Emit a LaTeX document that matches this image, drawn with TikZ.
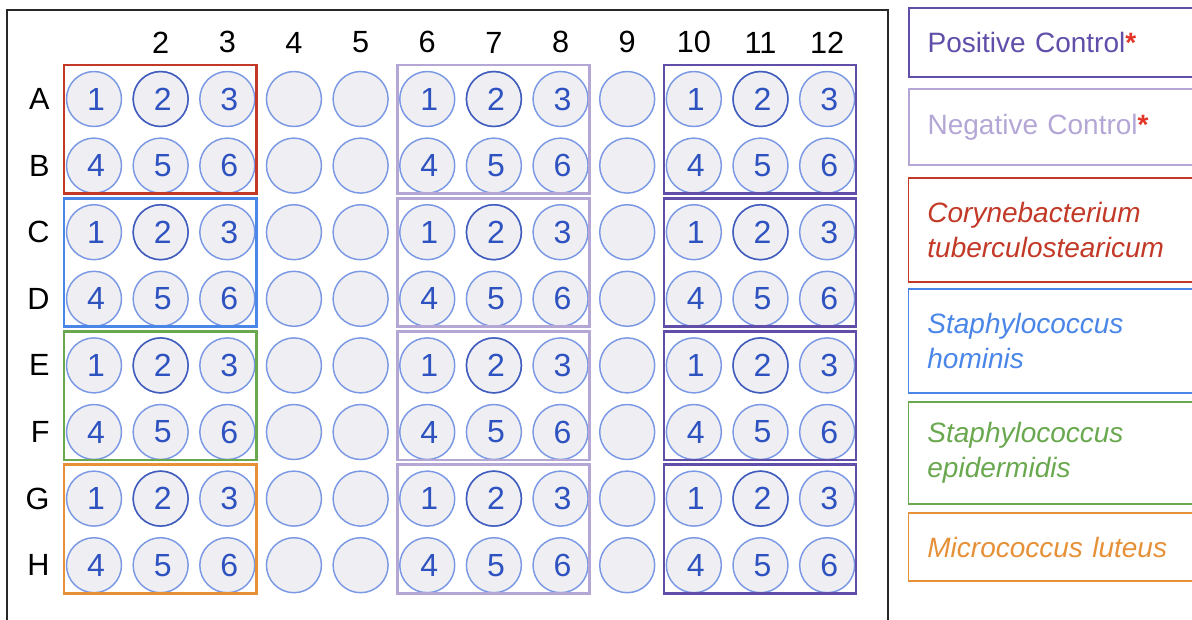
\documentclass[tikz,border=0pt]{standalone}
\usepackage{fontspec}
\setmainfont{Liberation Sans}
\usetikzlibrary{calc,positioning}
\definecolor{wellFill}{RGB}{239,239,243}
\definecolor{wellEdge}{RGB}{122,152,228}
\definecolor{wellEdgeDark}{RGB}{66,92,188}
\definecolor{wellNum}{RGB}{46,82,192}
\definecolor{grpRed}{RGB}{194,57,39}
\definecolor{grpBlue}{RGB}{74,134,232}
\definecolor{grpGreen}{RGB}{106,168,79}
\definecolor{grpOrange}{RGB}{230,145,56}
\definecolor{grpNeg}{RGB}{180,167,214}
\definecolor{grpPos}{RGB}{96,78,168}
\definecolor{starRed}{RGB}{228,52,40}
\definecolor{plateGray}{RGB}{40,40,40}

\begin{document}
\begin{tikzpicture}[x=0.75pt,y=-0.75pt,
  well/.style={circle, draw=wellEdge, fill=wellFill, line width=1.1pt,
    minimum size=41.25pt, inner sep=0pt, text=wellNum,
    font=\fontsize{24}{24}\selectfont},
  collab/.style={font=\fontsize{23}{23}\selectfont, inner sep=0pt},
  grpbox/.style={line width=2pt},
  legbox/.style={draw, anchor=west, align=left, text width=200pt,
    inner xsep=14pt, line width=1.1pt, font=\fontsize{21}{26}\selectfont}]
\path[use as bounding box] (0,0) rectangle (1192,619);
\clip (0,0) rectangle (1192,619);

% plate outline
\draw[plateGray, line width=1.4pt] (7,625) |- (888,10) -- (888,625);

% wells, one row at a time
\foreach \row/\ri/\base in {A/0/0,B/1/3,C/2/0,D/3/3,E/4/0,F/5/3,G/6/0,H/7/3} {
  \foreach \col/\k in {1/1,2/2,3/3,4/0,5/0,6/1,7/2,8/3,9/0,10/1,11/2,12/3} {
    \pgfmathtruncatemacro{\num}{\k+\base}
    \node[well] (w\row\col) at ({94+66.65*(\col-1)},{99+66.6*\ri})
      {\ifnum\k>0 \hspace*{3pt}\num\fi};
  }
  \node[collab, left=12pt of w\row1] (lab\row) {\row};
}
\foreach \row in {A,C,E,G}
  \foreach \col in {2,7,11}
    \draw[wellEdgeDark, line width=1.1pt] (w\row\col.center) circle[radius=27.5];

% column numbers
\foreach \col in {2,...,12}
  \node[collab, above=13pt of wA\col] (col\col) {\col};

% sample groups
\draw[grpbox, grpRed]    ($(wA1)+(-30,-34)$) rectangle ($(wB3)+(29,28)$);
\draw[grpbox, grpBlue]   ($(wC1)+(-30,-34)$) rectangle ($(wD3)+(29,28)$);
\draw[grpbox, grpGreen]  ($(wE1)+(-30,-34)$) rectangle ($(wF3)+(29,28)$);
\draw[grpbox, grpOrange] ($(wG1)+(-30,-34)$) rectangle ($(wH3)+(29,28)$);
\foreach \ra/\rb in {A/B,C/D,E/F,G/H} {
  \draw[grpbox, grpNeg] ($(w\ra6)+(-30,-34)$) rectangle ($(w\rb8)+(29,28)$);
  \draw[grpbox, grpPos] ($(w\ra10)+(-30,-34)$) rectangle ($(w\rb12)+(29,28)$);
}

% legend
\node[legbox, draw=grpPos, line width=1.6pt, text=grpPos, minimum height=51.75pt]
  (legPos) at (908,42.5) {Positive Control{\color{starRed}\bfseries*}};
\node[legbox, draw=grpNeg, line width=1.4pt, text=grpNeg, minimum height=57pt]
  (legNeg) at (908,127) {Negative Control{\color{starRed}\bfseries*}};
\node[legbox, draw=grpRed, text=grpRed, minimum height=78pt]
  (legRed) at (908,230) {\itshape Corynebacterium\\tuberculostearicum};
\node[legbox, draw=grpBlue, text=grpBlue, minimum height=78pt]
  (legBlue) at (908,341) {\itshape Staphylococcus\\hominis};
\node[legbox, draw=grpGreen, text=grpGreen, minimum height=76.5pt]
  (legGreen) at (908,453) {\itshape Staphylococcus\\epidermidis};
\node[legbox, draw=grpOrange, text=grpOrange, minimum height=51pt]
  (legOrange) at (908,547) {\itshape Micrococcus luteus};
\end{tikzpicture}
\end{document}
